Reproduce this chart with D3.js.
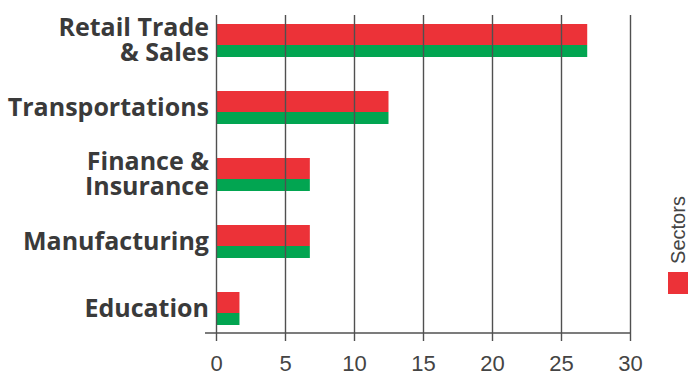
<!DOCTYPE html>
<html><head><meta charset="utf-8">
<script src="https://cdn.jsdelivr.net/npm/d3@7"></script>
<style>body{margin:0;background:#fff}svg{display:block}</style>
</head><body><svg id="c" width="688" height="377"></svg>
<script>
const categories = ["Retail Trade & Sales", "Transportations", "Finance & Insurance", "Manufacturing", "Education"];
const categoryLines = [["Retail Trade", "& Sales"], ["Transportations"], ["Finance &", "Insurance"], ["Manufacturing"], ["Education"]];
const sectorValues = [26.9, 12.5, 6.8, 6.8, 1.7];
const baseValues = [26.9, 12.5, 6.8, 6.8, 1.7];
const xTicks = [0, 5, 10, 15, 20, 25, 30];
const legendLabel = "Sectors";

const RED = "#EC3238", GREEN = "#02A551", GRID = "#505050", TXT = "#3a3a3a";
const svg = d3.select("#c");
const x = d3.scaleLinear().domain([0, 30]).range([216, 630]);
const y = d3.scaleBand().domain(categories).range([7, 342]);
const redH = 21, greenH = 12, barH = redH + greenH;
const rows = categories.map((c, i) => ({c, lines: categoryLines[i], v: sectorValues[i], b: baseValues[i]}));

// bars
svg.append("g").selectAll("rect").data(rows).join("rect")
  .attr("x", x(0)).attr("width", d => x(d.b) - x(0))
  .attr("y", d => y(d.c) + y.bandwidth()/2 - barH/2 + redH).attr("height", greenH)
  .attr("fill", GREEN);
svg.append("g").selectAll("rect").data(rows).join("rect")
  .attr("x", x(0)).attr("width", d => x(d.v) - x(0))
  .attr("y", d => y(d.c) + y.bandwidth()/2 - barH/2).attr("height", redH)
  .attr("fill", RED);

// grid + axis
const axisY = 333;
const ax = svg.append("g").attr("transform", `translate(0,${axisY})`)
  .call(d3.axisBottom(x).tickValues(xTicks).tickSize(8).tickPadding(14).tickSizeOuter(0));
ax.select(".domain").remove();
ax.selectAll(".tick line").attr("stroke", GRID).attr("stroke-width", 1.4).attr("y1", 15 - axisY);
ax.selectAll(".tick text").attr("fill", "#444").attr("font-family", "Liberation Sans, Arial, sans-serif").attr("font-size", 22);
svg.append("line").attr("x1", 205).attr("x2", x(30)).attr("y1", axisY).attr("y2", axisY)
  .attr("stroke", GRID).attr("stroke-width", 1.4);

// category labels
const lh = 25.5;
const lab = svg.append("g").attr("font-family", "Open Sans, sans-serif").attr("font-weight", 700)
  .attr("font-size", 25).attr("fill", TXT).attr("text-anchor", "end");
rows.forEach(d => {
  const cy = y(d.c) + y.bandwidth()/2;
  const n = d.lines.length;
  d.lines.forEach((ln, i) => {
    lab.append("text").attr("x", 209).attr("y", cy + (i - (n - 1)/2) * lh + 8).text(ln);
  });
});

// legend
svg.append("rect").attr("x", 668).attr("y", 272).attr("width", 20).attr("height", 22).attr("fill", RED);
svg.append("text").attr("transform", "translate(685,230) rotate(-90)")
  .attr("text-anchor", "middle").attr("font-family", "Liberation Sans, Arial, sans-serif")
  .attr("font-size", 20).attr("fill", "#444").text(legendLabel);
</script></body></html>
